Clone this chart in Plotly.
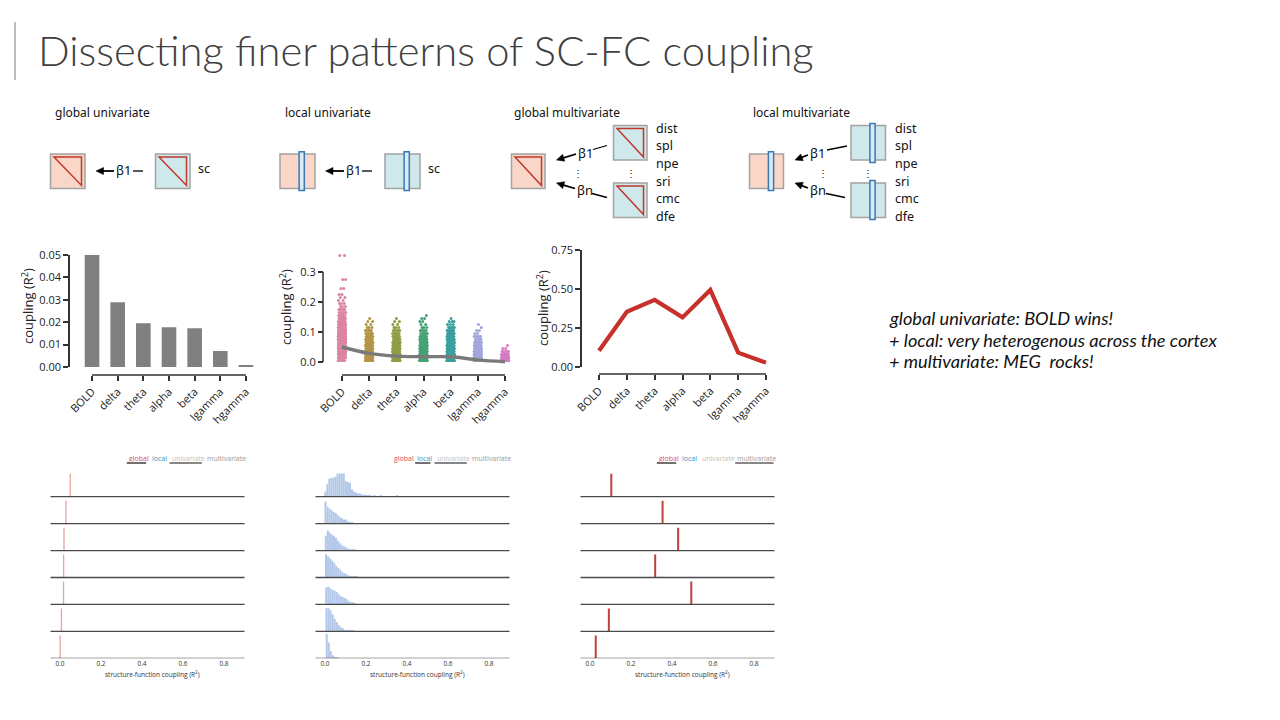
import math
import plotly.graph_objects as go

W, H = 1280, 720
def px(x): return x / W
def py(y): return 1 - y / H

# ---------------- data ----------------
bands = ["BOLD", "delta", "theta", "alpha", "beta", "lgamma", "hgamma"]
global_univariate = [0.050, 0.0289, 0.0195, 0.0177, 0.0173, 0.0071, 0.0008]
global_multivariate = [0.104, 0.354, 0.430, 0.318, 0.494, 0.092, 0.028]
strip_colors = ["#dc85a0", "#b59448", "#8e9e44", "#46a276", "#3b9f9f", "#a2a6dc", "#d47cc2"]

bin_width = 0.01  # local histograms, bins start at 0.0
hist_BOLD = [5, 12, 17, 18, 18, 19, 22, 22, 22, 22, 15, 14, 13, 7, 5, 4, 3, 3, 2, 2, 1, 1, 1, 0, 1, 0, 0, 1, 0, 0, 0, 0, 0, 0, 0, 1]
hist_delta = [21, 16, 14, 13, 11, 10, 8, 6, 5, 4, 4, 2, 1, 1, 0.5]
hist_theta = [14, 19, 17, 15, 14, 12, 9, 7, 5, 4, 3, 2, 1, 1, 0.5]
hist_alpha = [22, 20, 18, 16, 14, 11, 9, 7, 5, 4, 3, 2, 1, 1, 1, 0.5, 0.3, 0.3]
hist_beta = [16, 17, 15, 14, 13, 12, 10, 8, 7, 6, 5, 3, 2, 2, 0.5]
hist_lgamma = [22, 22, 20, 16, 12, 9, 6, 4, 3, 1, 1, 0.5, 0.5, 0.3]
hist_hgamma = [23, 15, 7, 3, 1, 0.5]
local_hists = [hist_BOLD, hist_delta, hist_theta, hist_alpha, hist_beta, hist_lgamma, hist_hgamma]

ridge_ticks = [0.0, 0.2, 0.4, 0.6, 0.8]
legend_words = ["global", "local", "univariate", "multivariate"]
legend_colors = ["#d65050", "#3f8fc2", "#c2c2c2", "#9a9a9a"]
legend_offsets = [-117.7, -94.3, -75.0, -39.3]   # px from panel right edge
legend_widths = [19.4, 15.3, 32.3, 38.3]
multi_features = ["dist", "spl", "npe", "sri", "cmc", "dfe"]
notes = ["global univariate: BOLD wins!",
         "+ local: very heterogenous across the cortex",
         "+ multivariate: MEG  rocks!"]

FONT = "Open Sans"
DARK = "#222222"
fig = go.Figure()

# ---------------- chart 1: bars ----------------
fig.add_trace(go.Bar(x=list(range(len(bands))), y=global_univariate, width=0.57,
                     marker=dict(color="#808080", line=dict(width=0)),
                     xaxis="x", yaxis="y", showlegend=False))

# ---------------- chart 2: strip ----------------
k = 1.6
for ci, hist in enumerate(local_hists):
    xs, ys = [], []
    j = 0
    for i, h in enumerate(hist):
        n = int(round(h * k))
        for m in range(n):
            xs.append(ci + (((j * 0.6180339) % 1.0) - 0.5) * 0.28)
            ys.append((i + 0.5) * bin_width)
            j += 1
    fig.add_trace(go.Scatter(x=xs, y=ys, mode="markers",
                             marker=dict(size=3, color=strip_colors[ci], line=dict(width=0)),
                             xaxis="x2", yaxis="y2", showlegend=False))
fig.add_trace(go.Scatter(x=list(range(len(bands))), y=global_univariate, mode="lines",
                         line=dict(color="#7a7a7a", width=3.4, shape="spline"),
                         xaxis="x2", yaxis="y2", showlegend=False))

# ---------------- chart 3: line ----------------
fig.add_trace(go.Scatter(x=list(range(len(bands))), y=global_multivariate, mode="lines",
                         line=dict(color="#c8302c", width=4.2),
                         xaxis="x3", yaxis="y3", showlegend=False))

# ---------------- ridge panels ----------------
row_h = 0.85
def spikes(values):
    xs, ys = [], []
    for r, v in enumerate(values):
        xs += [v, v, None]
        ys += [-r, -r + row_h, None]
    return xs, ys

sx, sy = spikes(global_univariate)
fig.add_trace(go.Scatter(x=sx, y=sy, mode="lines", line=dict(color="#eaa3a3", width=1.3),
                         xaxis="x4", yaxis="y4", showlegend=False))
hscale = 0.9 / 23.0
for r, hist in enumerate(local_hists):
    fig.add_trace(go.Bar(x=[(i + 0.5) * bin_width for i in range(len(hist))],
                         y=[h * hscale for h in hist], base=-r, width=bin_width,
                         marker=dict(color="#b3c8e8", line=dict(width=0)),
                         xaxis="x5", yaxis="y5", showlegend=False))
mx, my = spikes(global_multivariate)
fig.add_trace(go.Scatter(x=mx, y=my, mode="lines", line=dict(color="#c0403c", width=2),
                         xaxis="x6", yaxis="y6", showlegend=False))

# ---------------- axes ----------------
def xdom(a, b): return [a / W, b / W]
def ydom(top, bottom): return [1 - bottom / H, 1 - top / H]

tickfont = dict(family=FONT, size=11, color=DARK)
common = dict(showgrid=False, zeroline=False, automargin=False)
cat_x = dict(range=[-0.5, 6.5], tickmode="array", tickvals=list(range(7)), ticktext=bands,
             ticks="outside", ticklen=5, tickwidth=1.5, tickcolor="#333", tickangle=-45,
             showline=False, anchor="free", tickfont=tickfont, **common)
val_y = dict(ticks="outside", ticklen=5, tickwidth=1.5, tickcolor="#333", anchor="free",
             tickfont=tickfont, **common)

layout = dict(
    width=W, height=H, margin=dict(l=0, r=0, t=0, b=0, pad=0, autoexpand=False),
    paper_bgcolor="white", plot_bgcolor="rgba(0,0,0,0)", showlegend=False,
    xaxis=dict(domain=xdom(79.2, 258.8), position=py(375), **cat_x),
    yaxis=dict(domain=ydom(255, 367), range=[0, 0.05], position=px(69), showline=True,
               linewidth=1.5, linecolor="#333", tickvals=[0, 0.01, 0.02, 0.03, 0.04, 0.05],
               tickformat=".2f", **val_y),
    xaxis2=dict(domain=xdom(328.4, 518.6), position=py(375), **cat_x),
    yaxis2=dict(domain=ydom(254, 368), range=[-0.02, 0.36], position=px(323), showline=False,
                tickvals=[0, 0.1, 0.2, 0.3], tickformat=".1f", **val_y),
    xaxis3=dict(domain=xdom(585.1, 779.9), position=py(374), **cat_x),
    yaxis3=dict(domain=ydom(250, 367), range=[0, 0.75], position=px(581), showline=True,
                linewidth=1.5, linecolor="#333", tickvals=[0, 0.25, 0.5, 0.75],
                tickformat=".2f", **val_y),
)
ridge_doms = [(50.5, 244.5), (315.5, 509.5), (580.5, 774.5)]
for n, (a, b) in enumerate(ridge_doms):
    i = n + 4
    layout[f"xaxis{i}"] = dict(domain=xdom(a, b), range=[-0.0463, 0.9], anchor=f"y{i}",
                               tickmode="array", tickvals=ridge_ticks, tickformat=".1f",
                               ticks="", showline=False,
                               tickfont=dict(family=FONT, size=6.5, color="#333"), **common)
    layout[f"yaxis{i}"] = dict(domain=ydom(471.1, 658.3), range=[-6, 0.95], anchor=f"x{i}",
                               visible=False, **common)
fig.update_layout(**layout)

shapes = []
annotations = []

def note(text, x, y, xanchor="left", yanchor="middle", **kw):
    d = dict(text=text, x=px(x), y=py(y), xref="paper", yref="paper", xanchor=xanchor,
             yanchor=yanchor, showarrow=False)
    d.update(kw)
    annotations.append(d)

# spines drawn only over the data span
for xa, ypix in [("x", 375), ("x2", 375), ("x3", 374)]:
    shapes.append(dict(type="line", xref=xa, yref="paper", x0=0, x1=6, y0=py(ypix), y1=py(ypix),
                       line=dict(color="#333", width=1.5)))
shapes.append(dict(type="line", xref="paper", yref="y2", x0=px(323), x1=px(323), y0=0, y1=0.3,
                   line=dict(color="#333", width=1.5)))

# y titles
for xc, yc in [(27, 306), (285, 307), (542, 308)]:
    note("coupling (R<sup>2</sup>)", xc, yc, xanchor="center", textangle=-90,
         font=dict(family=FONT, size=13, color=DARK))

# ridge baselines, titles, legends
ridge_names = [["global", "univariate"], ["local", "univariate"], ["global", "multivariate"]]
for n, (a, b) in enumerate(ridge_doms):
    i = n + 4
    for r in range(7):
        shapes.append(dict(type="line", xref=f"x{i} domain", yref=f"y{i}", x0=0, x1=1, y0=-r, y1=-r,
                           line=dict(color="#4a4a4a", width=1.3)))
    note("structure-function coupling (R<sup>2</sup>)", (a + b) / 2 + 5, 674, xanchor="center",
         font=dict(family=FONT, size=6.5, color="#333"))
    for w, c, off, wd in zip(legend_words, legend_colors, legend_offsets, legend_widths):
        note(w, b + off, 458, font=dict(family=FONT, size=7, color=c))
        if w in ridge_names[n]:
            shapes.append(dict(type="line", xref="paper", yref="paper", x0=px(b + off),
                               x1=px(b + off + wd), y0=py(463), y1=py(463),
                               line=dict(color="#111", width=1.2)))

# ---------------- title & notes ----------------
shapes.append(dict(type="line", xref="paper", yref="paper", x0=px(15), x1=px(15), y0=py(22), y1=py(80),
                   line=dict(color="#bdbdbd", width=2)))
note("Dissecting finer patterns of SC-FC coupling", 36, 50,
     font=dict(family="Lato", size=41.7, color="#404040", weight=300))
for i, t in enumerate(notes):
    note(f"<i>{t}</i>", 887, 318 + 21.5 * i, font=dict(family="Lato", size=18.2, color="#111"))

# ---------------- top diagrams ----------------
PINK, BLUE, EDGE, RED, BARC = "#f9d6c7", "#cfe8eb", "#a3a3a3", "#c0392b", "#3b78b5"
def square(x0, y0, x1, y1, fill):
    shapes.append(dict(type="rect", xref="paper", yref="paper", x0=px(x0), x1=px(x1), y0=py(y1), y1=py(y0),
                       fillcolor=fill, line=dict(color=EDGE, width=1.5)))
def tri(x0, y0, x1, y1):
    a, b, c, d = px(x0 + 3.5), px(x1 - 3.5), py(y0 + 3), py(y1 - 3)
    shapes.append(dict(type="path", xref="paper", yref="paper",
                       path=f"M {a} {c} L {b} {c} L {b} {d} Z", line=dict(color=RED, width=1.5)))
def vbar(xc, y0, y1):
    shapes.append(dict(type="rect", xref="paper", yref="paper", x0=px(xc - 2.6), x1=px(xc + 2.6),
                       y0=py(y1), y1=py(y0), fillcolor="#d9ecf6", line=dict(color=BARC, width=1.5)))
def arrow(tx, ty, sx_, sy_, head=7.5, hw=3.6):
    # arrow drawn as a shaft line plus a filled triangular head (pixel coords)
    dx, dy = tx - sx_, ty - sy_
    L = math.hypot(dx, dy)
    ux, uy = dx / L, dy / L
    bx, by = tx - ux * head, ty - uy * head
    nx, ny = -uy, ux
    shapes.append(dict(type="line", xref="paper", yref="paper", x0=px(sx_), y0=py(sy_),
                       x1=px(bx + ux * 1), y1=py(by + uy * 1), line=dict(color="#000", width=1.8)))
    p = (f"M {px(tx)} {py(ty)} L {px(bx + nx * hw)} {py(by + ny * hw)} "
         f"L {px(bx - nx * hw)} {py(by - ny * hw)} Z")
    shapes.append(dict(type="path", xref="paper", yref="paper", path=p, fillcolor="#000",
                       line=dict(color="#000", width=0.5)))
def txt(t, x, y, size=13, anchor="left", color="#111"):
    note(t, x, y, xanchor=anchor, font=dict(family="Noto Sans", size=size, color=color))
def seg(x0, y0, x1, y1):
    shapes.append(dict(type="line", xref="paper", yref="paper", x0=px(x0), x1=px(x1), y0=py(y0), y1=py(y1),
                       line=dict(color="#000", width=1.3)))

# section labels
for t, x in [("global univariate", 53), ("local univariate", 283), ("global multivariate", 512),
             ("local multivariate", 751)]:
    txt(t, x, 112, size=12)

# global univariate
square(50.5, 154, 85, 188.5, PINK); tri(50.5, 154, 85, 188.5)
square(155.5, 154, 190, 188.5, BLUE); tri(155.5, 154, 190, 188.5)
arrow(96, 171, 114, 171); txt("β1", 113.5, 170.5); seg(133, 171, 143, 171)
txt("sc", 196, 168.5, size=12.5)

# local univariate
square(280, 154, 315, 188.5, PINK); vbar(301.7, 151.7, 190.5)
square(385, 154, 420, 188.5, BLUE); vbar(406.7, 151.7, 190.5)
arrow(325.5, 171, 344, 171); txt("β1", 344, 170.5); seg(362, 171, 372, 171)
txt("sc", 426, 168.5, size=12.5)

# global multivariate
square(511.5, 154, 545, 188.5, PINK); tri(511.5, 154, 545, 188.5)
square(613.5, 125.5, 647, 160, BLUE); tri(613.5, 125.5, 647, 160)
square(613.5, 183, 647, 217.5, BLUE); tri(613.5, 183, 647, 217.5)
arrow(556.5, 160, 576, 154); txt("β1", 576, 153)
seg(593, 149.5, 607, 145.5)
arrow(556.5, 183, 575, 188.5); txt("βn", 575, 190)
seg(592, 193.5, 607, 197.5)
txt("⋮", 578, 173, size=10, anchor="center"); txt("⋮", 631, 173, size=10, anchor="center")
for i, f in enumerate(multi_features):
    txt(f, 654, 128.3 + 17.6 * i, size=12.5)

# local multivariate
square(749.5, 154, 783.5, 188.5, PINK); vbar(771, 151.7, 190.5)
square(851, 125.5, 885.5, 160, BLUE); vbar(872.5, 123.5, 162.5)
square(851, 183, 885.5, 217.5, BLUE); vbar(872.5, 180.5, 219.5)
arrow(795, 160, 808, 155); txt("β1", 808, 153)
seg(827, 150, 847, 146)
arrow(795, 183, 808, 188); txt("βn", 808, 190)
seg(826, 193.5, 845, 197.5)
txt("⋮", 823, 173, size=10, anchor="center"); txt("⋮", 868, 173, size=10, anchor="center")
for i, f in enumerate(multi_features):
    txt(f, 893, 128.3 + 17.6 * i, size=12.5)

fig.update_layout(shapes=shapes, annotations=annotations)
fig.write_html("out.html", config={"displayModeBar": False},
               post_script="document.body.style.margin='0';")
